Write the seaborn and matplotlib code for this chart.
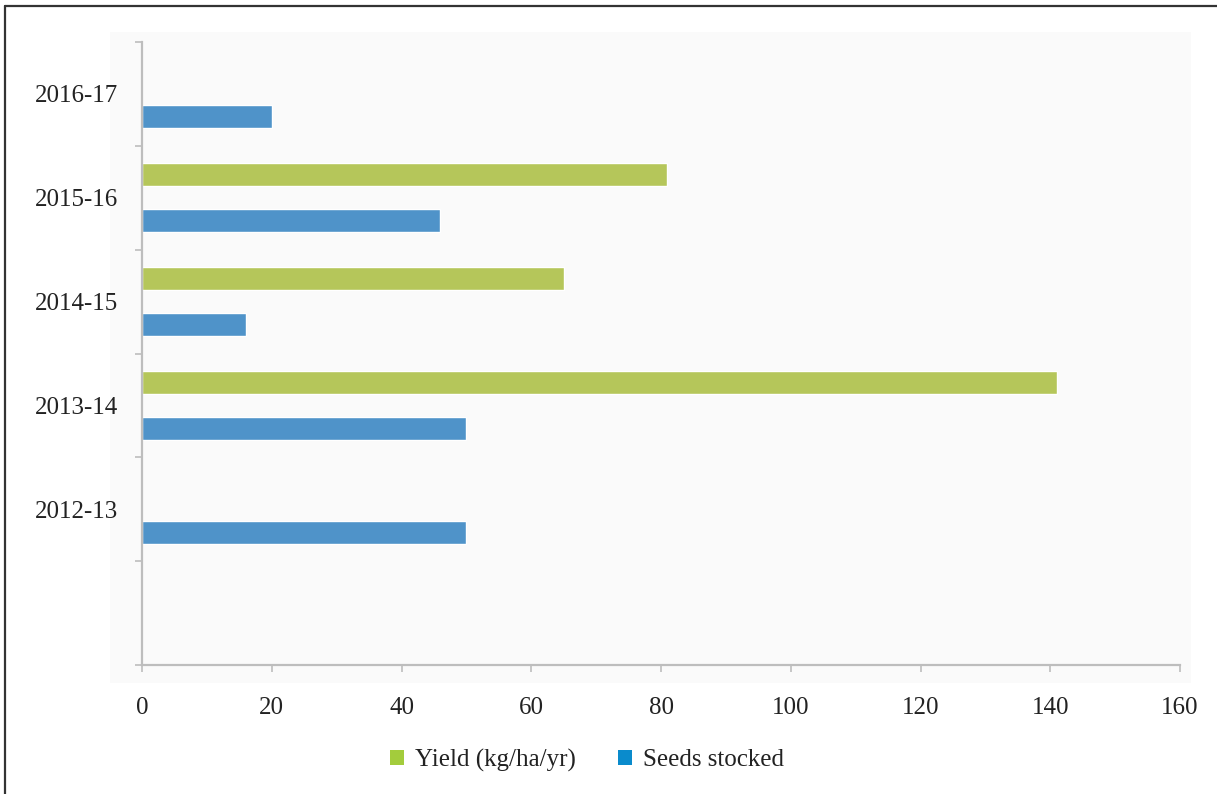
import numpy as np
import pandas as pd
import matplotlib
matplotlib.use("Agg")
import matplotlib.pyplot as plt
from matplotlib.patches import Patch, Rectangle
from matplotlib.lines import Line2D
import seaborn as sns

# ---- data ----
years = ["2016-17", "2015-16", "2014-15", "2013-14", "2012-13"]
yield_vals = [np.nan, 81, 65, 141, np.nan]
seeds_vals = [20, 46, 16, 50, 50]
series = ["Yield (kg/ha/yr)", "Seeds stocked"]
x_ticks = [0, 20, 40, 60, 80, 100, 120, 140, 160]

df = pd.DataFrame({
    "year": years * 2,
    "value": yield_vals + seeds_vals,
    "series": [series[0]] * len(years) + [series[1]] * len(years),
})

bar_colors = {series[0]: "#b5c65a", series[1]: "#4f93c9"}
legend_colors = {series[0]: "#a3cc3c", series[1]: "#0a8bcc"}

sns.set_theme(style="white")
plt.rcParams["font.family"] = ["Liberation Serif", "DejaVu Serif"]

fig = plt.figure(figsize=(12.17, 7.94), dpi=100)
ax = fig.add_axes([142 / 1217, 1 - 665 / 794, (1180 - 142) / 1217, (665 - 42) / 794])
ax.set_facecolor("none")

# light gray backdrop behind the chart
fig.patches.append(Rectangle((110 / 1217, 1 - 683 / 794), (1191 - 110) / 1217, (683 - 32) / 794,
                             transform=fig.transFigure, facecolor="#fafafa", edgecolor="none", zorder=-5))
# frame lines (left and top)
fig.lines.append(Line2D([5 / 1217, 5 / 1217], [0, 1 - 6 / 794], transform=fig.transFigure, color="#333333", lw=1.6))
fig.lines.append(Line2D([5 / 1217, 1], [1 - 6 / 794, 1 - 6 / 794], transform=fig.transFigure, color="#333333", lw=1.6))

sns.barplot(data=df, y="year", x="value", hue="series", order=years, hue_order=series,
            palette=bar_colors, orient="h", width=0.88, gap=0.5, ax=ax, legend=False,
            saturation=1, errorbar=None)

ax.set_xlim(0, 160)
ax.set_ylim(5.5, -0.5)
ax.set_xticks(x_ticks)
ax.set_xticklabels([str(t) for t in x_ticks])
ax.set_yticks(range(len(years)))
ax.set_yticklabels(years)
ax.set_yticks(np.arange(-0.5, 5.6, 1.0), minor=True)
ax.set_xlabel("")
ax.set_ylabel("")

for s in ["top", "right"]:
    ax.spines[s].set_visible(False)
for s in ["left", "bottom"]:
    ax.spines[s].set_visible(True)
    ax.spines[s].set_color("#bdbdbd")
    ax.spines[s].set_linewidth(1.6)

ax.tick_params(axis="x", which="major", direction="out", length=5, width=1.2, color="#bdbdbd",
               labelsize=18, labelcolor="#222222", pad=18, bottom=True)
ax.tick_params(axis="y", which="major", length=0, labelsize=18, labelcolor="#222222", pad=17)
ax.tick_params(axis="y", which="minor", direction="out", length=5, width=1.2, color="#bdbdbd", left=True)

handles = [Patch(facecolor=legend_colors[s], edgecolor="none", label=s) for s in series]
fig.legend(handles=handles, loc="center", bbox_to_anchor=(587 / 1217, 1 - 760 / 794), ncol=2,
           frameon=False, fontsize=18, handlelength=0.55, handleheight=0.55,
           handletextpad=0.45, columnspacing=1.7, labelcolor="#222222")

fig.savefig("out.png", dpi=100, facecolor="white")
